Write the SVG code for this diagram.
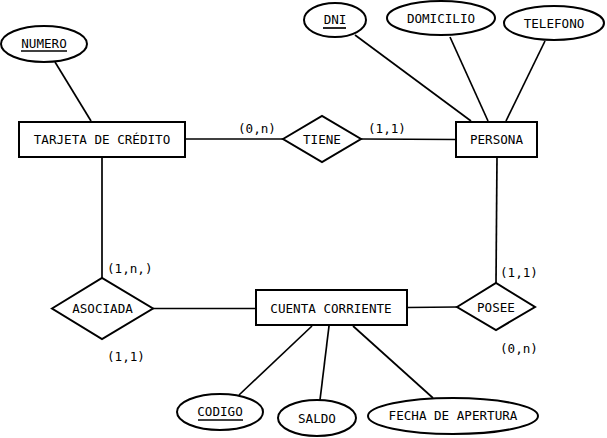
<svg xmlns="http://www.w3.org/2000/svg" width="607" height="438" viewBox="0 0 607 438">
<style>
.s{fill:#fff;stroke:#000;stroke-width:2}
.l{stroke:#000;stroke-width:1.7;fill:none}
text{font-family:"DejaVu Sans Mono","Liberation Mono",monospace;font-size:12.6px;fill:#000;text-anchor:middle;dominant-baseline:central}
.c{text-anchor:start}
</style>
<rect width="607" height="438" fill="#fff"/>
<g id="connectors">
<line class="l" x1="55" y1="62" x2="91" y2="121"/>
<line class="l" x1="185" y1="139" x2="283" y2="139"/>
<line class="l" x1="361" y1="139" x2="456" y2="139.5"/>
<line class="l" x1="355" y1="35" x2="471" y2="121"/>
<line class="l" x1="450" y1="37" x2="488" y2="121"/>
<line class="l" x1="545" y1="41" x2="506" y2="121"/>
<line class="l" x1="497" y1="157" x2="496" y2="283"/>
<line class="l" x1="407" y1="307.5" x2="457" y2="307"/>
<line class="l" x1="153" y1="308.5" x2="256" y2="308.5"/>
<line class="l" x1="102" y1="157" x2="102" y2="278"/>
<line class="l" x1="239" y1="395" x2="312" y2="326"/>
<line class="l" x1="320" y1="400" x2="329" y2="326"/>
<line class="l" x1="433" y1="398" x2="353" y2="326"/>
<text class="c" x="238" y="128">(0,n)</text>
<text class="c" x="368" y="128">(1,1)</text>
<text class="c" x="500" y="272">(1,1)</text>
<text class="c" x="500" y="348">(0,n)</text>
<text class="c" x="107" y="268">(1,n,)</text>
<text class="c" x="107" y="356">(1,1)</text>
</g>
<g id="numero"><ellipse class="s" cx="44" cy="44" rx="43" ry="18"/><text x="44" y="43">NUMERO</text><line class="l" x1="21" y1="51" x2="67" y2="51"/></g>
<g id="tarjeta"><rect class="s" x="19" y="122" width="166" height="35"/><text x="102" y="139.5">TARJETA DE CRÉDITO</text></g>
<g id="tiene"><polygon class="s" points="283,139 322,116 361,139 322,162"/><text x="322" y="139">TIENE</text></g>
<g id="persona"><rect class="s" x="456" y="122" width="81" height="35"/><text x="496.5" y="139.5">PERSONA</text></g>
<g id="dni"><ellipse class="s" cx="335" cy="20" rx="31" ry="17"/><text x="335" y="19">DNI</text><line class="l" x1="323" y1="28" x2="346" y2="28"/></g>
<g id="domicilio"><ellipse class="s" cx="441" cy="18" rx="54" ry="17"/><text x="441" y="18">DOMICILIO</text></g>
<g id="telefono"><ellipse class="s" cx="554" cy="23" rx="50" ry="17"/><text x="554" y="23">TELEFONO</text></g>
<g id="posee"><polygon class="s" points="457,307 496,283 535,307 496,330"/><text x="496" y="307">POSEE</text></g>
<g id="cuenta"><rect class="s" x="256" y="290" width="151" height="35"/><text x="331" y="308">CUENTA CORRIENTE</text></g>
<g id="asociada"><polygon class="s" points="52,308.5 102,278 153,308.5 102,339"/><text x="102.5" y="308.5">ASOCIADA</text></g>
<g id="codigo"><ellipse class="s" cx="220" cy="412" rx="43" ry="18"/><text x="220" y="411">CODIGO</text><line class="l" x1="198" y1="420" x2="243" y2="420"/></g>
<g id="saldo"><ellipse class="s" cx="317" cy="418" rx="39" ry="18"/><text x="317" y="418">SALDO</text></g>
<g id="fecha"><ellipse class="s" cx="453" cy="416" rx="85" ry="18"/><text x="453" y="415">FECHA DE APERTURA</text></g>
</svg>
